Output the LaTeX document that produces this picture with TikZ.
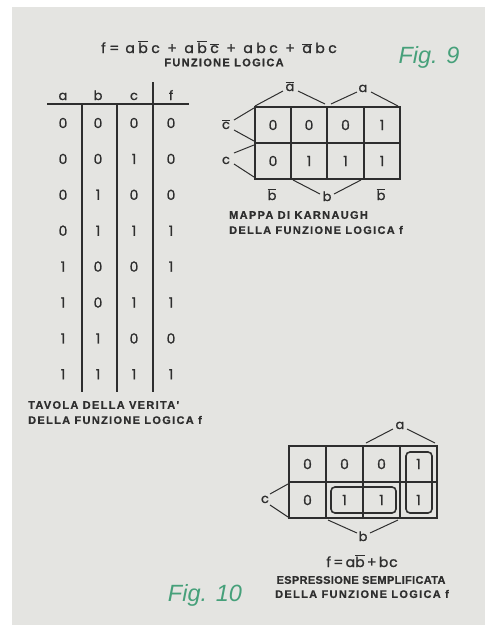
\documentclass[tikz,border=0pt]{standalone}
\usepackage{fontspec}
\setmainfont{Poppins}
\newfontfamily\geo{Poppins}[FakeBold=1.2]
\newfontfamily\geosq{Poppins}[FakeBold=1.2,LetterSpace=6]
\newfontfamily\capf{Liberation Sans}[LetterSpace=12,FakeBold=0.8]
\newfontfamily\capg{Liberation Sans}[LetterSpace=3,FakeBold=0.8]
\newfontfamily\figf{Liberation Sans}
\definecolor{panel}{HTML}{E4E4E1}
\definecolor{ink}{HTML}{2E2E2E}
\definecolor{figgreen}{HTML}{46A07A}
\newcommand\ovl[1]{\ensuremath{\overline{\mbox{#1}}}}
\newcommand\gi{\hspace{3.5pt}}
\newcommand\go{\hspace{7.5pt}}
\tikzset{
  txt/.style={text=ink, inner sep=0pt},
  lab/.style={txt, anchor=base, font=\geo\fontsize{13}{13}\selectfont},
  dig/.style={txt, font=\geo\fontsize{14}{14}\selectfont},
  captxt/.style={txt, anchor=west, font=\capf\bfseries\fontsize{11}{11}\selectfont},
  gridline/.style={draw=ink, line width=1.3pt},
  tent/.style={draw=ink, line width=1pt},
  grp/.style={draw=ink, line width=1.6pt, rounded corners=4pt},
  figlab/.style={text=figgreen, inner sep=0pt, font=\figf\itshape\fontsize{23.5}{23.5}\selectfont}
}
\begin{document}
\begin{tikzpicture}[x=1pt,y=-1pt]
\useasboundingbox (0,0) rectangle (490,625);
\fill[white] (0,0) rectangle (490,625);
\fill[panel] (12,7) rectangle (485,625);

% ---------- Fig. 9 heading ----------
\node[txt, anchor=base, text depth=0pt, font=\geo\fontsize{14}{14}\selectfont] (formula) at (219,53)
  {f\gi=\hspace{6pt}a\gi\ovl{b}\gi c\go+\go a\gi\ovl{b}\gi\ovl{c}\go+\go a\gi b\gi c\go+\go\ovl{a}\gi b\gi c};
\node[captxt, anchor=center] (fl) at (224,62.5) {FUNZIONE LOGICA};
\node[figlab] (fig9) at (429,57) {Fig. 9};

% ---------- truth table ----------
\draw[gridline] (47,104) -- (189,104);
\draw[gridline] (82,104) -- (82,392);
\draw[gridline] (117,104) -- (117,392);
\draw[gridline] (153,82) -- (153,392);
\foreach \h [count=\c] in {a,b,c,f}{
  \pgfmathsetmacro\xx{{63,98,134,171}[\c-1]}
  \node[lab] (th\c) at (\xx,100) {\h};
}
\foreach \r/\l in {1/{0,0,0,0},2/{0,0,1,0},3/{0,1,0,0},4/{0,1,1,1},5/{1,0,0,1},6/{1,0,1,1},7/{1,1,0,0},8/{1,1,1,1}}{
  \foreach \v [count=\c] in \l {
    \pgfmathsetmacro\xx{{63,98,134,171}[\c-1]}
    \pgfmathsetmacro\yy{123+35.9*(\r-1)}
    \node[dig] (t\r-\c) at (\xx,\yy) {\v};
  }
}
\node[captxt] (tcap1) at (28,405) {TAVOLA DELLA VERITA'};
\node[captxt] (tcap2) at (28,420) {DELLA FUNZIONE LOGICA f};

% ---------- Fig. 9 Karnaugh map ----------
\draw[gridline] (255,107) rectangle (400,179);
\draw[gridline] (255,143) -- (400,143);
\draw[gridline] (291,107) -- (291,179);
\draw[gridline] (327,107) -- (327,179);
\draw[gridline] (364,107) -- (364,179);
\foreach \v [count=\c] in {0,0,0,1}{
  \pgfmathsetmacro\xx{{273,309,345.5,382}[\c-1]}
  \node[dig] (ka1-\c) at (\xx,125) {\v};
}
\foreach \v [count=\c] in {0,1,1,1}{
  \pgfmathsetmacro\xx{{273,309,345.5,382}[\c-1]}
  \node[dig] (ka2-\c) at (\xx,161) {\v};
}
\node[lab] (kna) at (290,91) {\ovl{a}};
\node[lab] (ka) at (363,92) {a};
\node[lab] (knc) at (226,129) {\ovl{c}};
\node[lab] (kc) at (226,164) {c};
\node[lab] (knb1) at (272,200) {\ovl{b}};
\node[lab] (kb) at (327,201) {b};
\node[lab] (knb2) at (381,200) {\ovl{b}};
\draw[tent] (255,106) -- (283,91);
\draw[tent] (298,91) -- (325,104);
\draw[tent] (331,104) -- (357,92);
\draw[tent] (371,92) -- (398,106);
\draw[tent] (254,108) -- (234,120);
\draw[tent] (234,130) -- (254,141);
\draw[tent] (254,145) -- (234,153);
\draw[tent] (234,164) -- (254,177);
\draw[tent] (293,180) -- (320,194);
\draw[tent] (334,194) -- (361,180);
\node[captxt] (kcap1) at (229,215) {MAPPA DI KARNAUGH};
\node[captxt] (kcap2) at (229,230) {DELLA FUNZIONE LOGICA f};

% ---------- Fig. 10 Karnaugh map ----------
\draw[gridline] (289,446) rectangle (437,518);
\draw[gridline] (289,482) -- (437,482);
\draw[gridline] (326,446) -- (326,518);
\draw[gridline] (363,446) -- (363,518);
\draw[gridline] (400,446) -- (400,518);
\foreach \v [count=\c] in {0,0,0,1}{
  \pgfmathsetmacro\xx{{307.5,344.5,381.5,418.5}[\c-1]}
  \node[dig] (kb1-\c) at (\xx,464) {\v};
}
\foreach \v [count=\c] in {0,1,1,1}{
  \pgfmathsetmacro\xx{{307.5,344.5,381.5,418.5}[\c-1]}
  \node[dig] (kb2-\c) at (\xx,500) {\v};
}
\draw[grp] (406,452) rectangle (432,513);
\draw[grp] (331,487) rectangle (396,513);
\node[lab] (ma) at (400,429) {a};
\node[lab] (mc) at (265,503) {c};
\node[lab] (mb) at (363,541) {b};
\draw[tent] (366,443) -- (393,429);
\draw[tent] (407,429) -- (435,443);
\draw[tent] (288,484) -- (270,494);
\draw[tent] (270,505) -- (288,517);
\draw[tent] (328,520) -- (357,533);
\draw[tent] (370,533) -- (398,520);
\node[txt, anchor=base, text depth=0pt, font=\geosq\fontsize{14}{14}\selectfont] (simpl) at (362,567) {f\,=\,a\ovl{b}\,+\,bc};
\node[captxt, anchor=center, font=\capg\bfseries\fontsize{11}{11}\selectfont] (scap1) at (361,580) {ESPRESSIONE SEMPLIFICATA};
\node[captxt, anchor=center] (scap2) at (362,594) {DELLA FUNZIONE LOGICA f};
\node[figlab] (fig10) at (205,595) {Fig. 10};
\end{tikzpicture}
\end{document}
